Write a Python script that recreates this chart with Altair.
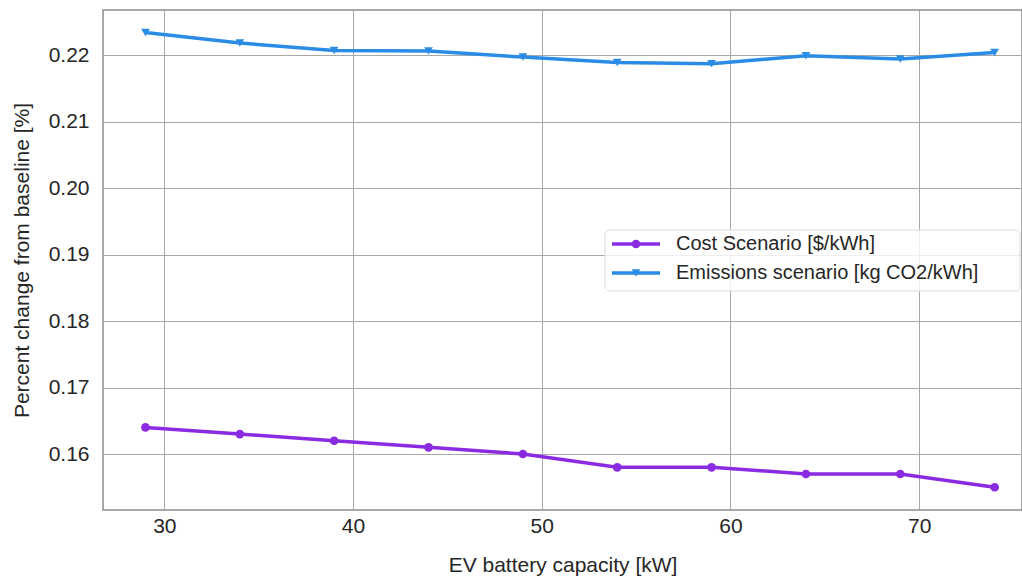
import altair as alt
import pandas as pd

# EV battery capacity [kW]
capacity = [29, 34, 39, 44, 49, 54, 59, 64, 69, 74]
# Percent change from baseline for each scenario
cost_change = [0.164, 0.163, 0.162, 0.161, 0.160, 0.158, 0.158, 0.157, 0.157, 0.155]
emissions_change = [0.2234, 0.2218, 0.2207, 0.2206, 0.2197, 0.2189, 0.2187, 0.2199, 0.2194, 0.2204]

series_names = ["Cost Scenario [$/kWh]", "Emissions scenario [kg CO2/kWh]"]
series_colors = ["#8A2BE2", "#2B8CE6"]
series_shapes = ["circle", "triangle-down"]

x_ticks = [30, 40, 50, 60, 70]
y_ticks = [0.16, 0.17, 0.18, 0.19, 0.20, 0.21, 0.22]

FONT = "Liberation Sans"

cost_df = pd.DataFrame({"capacity": capacity, "change": cost_change})
emis_df = pd.DataFrame({"capacity": capacity, "change": emissions_change})

x_enc = alt.X(
    "capacity:Q",
    scale=alt.Scale(domain=[26.75, 75.45], nice=False, zero=False),
    axis=alt.Axis(values=x_ticks, title="EV battery capacity [kW]", format="d"),
)
y_enc = alt.Y(
    "change:Q",
    scale=alt.Scale(domain=[0.15158, 0.22678], nice=False, zero=False),
    axis=alt.Axis(values=y_ticks, title="Percent change from baseline [%]", format=".2f"),
)


def series(df, color, shape):
    line = alt.Chart(df).mark_line(color=color, strokeWidth=3.5).encode(x=x_enc, y=y_enc)
    pts = alt.Chart(df).mark_point(
        color=color, filled=True, opacity=1, shape=shape, size=75
    ).encode(x=x_enc, y=y_enc)
    return [line, pts]


layers = []
layers += series(cost_df, series_colors[0], series_shapes[0])
layers += series(emis_df, series_colors[1], series_shapes[1])

# Legend box drawn in pixel space inside the plot
legend_df = pd.DataFrame({"name": series_names})
box = alt.Chart(legend_df.head(1)).mark_rect(
    fill="white", fillOpacity=0.8, stroke="#dddddd", strokeWidth=1, cornerRadius=4
).encode(x=alt.value(502), x2=alt.value(917), y=alt.value(220), y2=alt.value(281))
layers.append(box)

for i, (name, color, shape) in enumerate(zip(series_names, series_colors, series_shapes)):
    yy = 234 + i * 29
    item = legend_df[legend_df["name"] == name]
    layers.append(
        alt.Chart(item).mark_rule(color=color, strokeWidth=3.5).encode(
            x=alt.value(509), x2=alt.value(557), y=alt.value(yy)
        )
    )
    layers.append(
        alt.Chart(item).mark_point(color=color, filled=True, opacity=1, shape=shape, size=75).encode(
            x=alt.value(533), y=alt.value(yy)
        )
    )
    layers.append(
        alt.Chart(item).mark_text(
            align="left", baseline="middle", font=FONT, fontSize=20, color="#262626"
        ).encode(x=alt.value(573), y=alt.value(yy), text="name:N")
    )

chart = (
    alt.layer(*layers)
    .properties(
        width=919,
        height=500,
        padding={"left": 103, "top": 10, "right": 0, "bottom": 67},
        autosize="none",
        background="white",
    )
    .configure_view(stroke="#8c8c8c", strokeWidth=1.5)
    .configure_axis(
        grid=True,
        gridColor="#a8a8a8",
        gridWidth=1,
        domain=False,
        ticks=False,
        labelFont=FONT,
        labelFontSize=21,
        labelColor="#262626",
        titleFont=FONT,
        titleFontSize=21,
        titleFontWeight="normal",
        titleColor="#262626",
    )
    .configure_axisX(labelPadding=5, titlePadding=18)
    .configure_axisY(labelPadding=14, titlePadding=16)
)

chart.save("out.html", embed_options={"renderer": "svg", "actions": False})
